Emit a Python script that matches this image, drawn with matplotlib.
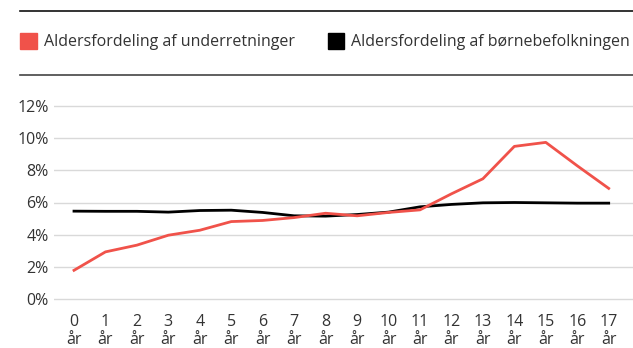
import numpy as np
import matplotlib.pyplot as plt
from matplotlib.lines import Line2D
from matplotlib.patches import Rectangle

ages = list(range(18))
tick_labels = [f"{a}\når" for a in ages]
underretninger = [1.77, 2.92, 3.34, 3.96, 4.27, 4.81, 4.88, 5.06, 5.33, 5.17,
                  5.38, 5.54, 6.54, 7.48, 9.50, 9.75, 8.29, 6.88]
boernebefolkning = [5.46, 5.45, 5.45, 5.40, 5.50, 5.52, 5.38, 5.17, 5.15, 5.25,
                    5.40, 5.73, 5.88, 5.98, 6.00, 5.98, 5.96, 5.96]
yticks = [0, 2, 4, 6, 8, 10, 12]

red = "#F0524A"
black = "#000000"
txt = "#333333"

plt.rcParams['font.family'] = ['Open Sans', 'DejaVu Sans']

W, H = 633, 348
fig = plt.figure(figsize=(W / 100, H / 100), dpi=100)

# plot area in pixel terms
x0, x1 = 54, 633
y_top, y_bot = 104, 301
ax = fig.add_axes([x0 / W, 1 - y_bot / H, (x1 - x0) / W, (y_bot - y_top) / H])

ax.plot(ages, boernebefolkning, color=black, lw=2.0, solid_joinstyle='round')
ax.plot(ages, underretninger, color=red, lw=2.0, solid_joinstyle='round')

step = (608.7 - 74) / 17
ax.set_xlim(-(74 - x0) / step, (x1 - 74) / step)
per = (298.7 - 106.3) / 12
ax.set_ylim(-(y_bot - 298.7) / per, 12 + (106.3 - y_top) / per)

ax.set_yticks(yticks)
ax.set_yticklabels([f"{v}%" for v in yticks])
ax.set_xticks(ages)
ax.set_xticklabels(tick_labels, linespacing=1.2)
ax.yaxis.grid(True, color="#d9d9d9", lw=1)
ax.set_axisbelow(True)
for s in ax.spines.values():
    s.set_visible(False)
ax.tick_params(length=0, labelsize=11.5, labelcolor=txt)
ax.tick_params(axis='y', pad=4)
ax.tick_params(axis='x', pad=9)

# legend block with rules above and below
fig.add_artist(Line2D([20.5 / W, 1], [1 - 11 / H] * 2, color="#111111", lw=1.2))
fig.add_artist(Line2D([20.5 / W, 1], [1 - 75 / H] * 2, color="#444444", lw=1.2))
for xs, col, label in [(20.5, red, "Aldersfordeling af underretninger"),
                       (328, black, "Aldersfordeling af børnebefolkningen")]:
    fig.add_artist(Rectangle((xs / W, 1 - 49 / H), 16 / W, 16 / H,
                             color=col, transform=fig.transFigure))
    fig.text((xs + 23) / W, 1 - 42 / H, label, color=txt, fontsize=11.5,
             va='center', ha='left')

fig.savefig("out.png", dpi=100)
